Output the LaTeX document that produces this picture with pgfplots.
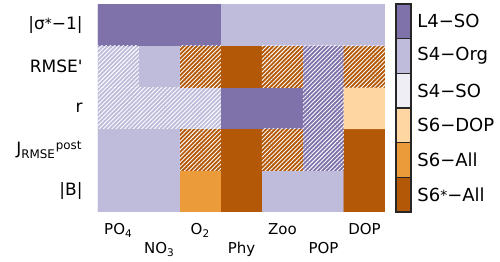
\documentclass[border=0pt]{standalone}
\usepackage{fontspec}
\setmainfont{DejaVu Sans}
\usepackage{pgfplots}
\pgfplotsset{compat=1.18}
\usetikzlibrary{patterns.meta}
\definecolor{cA}{RGB}{127,113,170}
\definecolor{cB}{RGB}{191,188,219}
\definecolor{cC}{RGB}{239,238,244}
\definecolor{cD}{RGB}{253,214,161}
\definecolor{cE}{RGB}{236,155,58}
\definecolor{cF}{RGB}{179,88,6}
\pgfplotsset{
  hatch/.style={draw=none, pattern={Lines[angle=45,distance=1.5pt,line width=0.45pt]}, pattern color=white},
}
\begin{document}
\begin{tikzpicture}
\path[use as bounding box] (0,0) rectangle (250pt,131pt);
\begin{axis}[at={(49pt,25pt)}, anchor=south west, scale only axis,
  width=143.5pt, height=104pt,
  xmin=0.5, xmax=7.5, ymin=0.5, ymax=5.5,
  colormap={cats}{rgb255=(127,113,170) rgb255=(191,188,219) rgb255=(239,238,244) rgb255=(253,214,161) rgb255=(236,155,58) rgb255=(179,88,6)},
  colormap access=direct,
  axis line style={draw=none}, major tick length=0pt,
  xtick={1,3,5,7}, xticklabels={PO\textsubscript{4},O\textsubscript{2},Zoo,DOP},
  extra x ticks={2,4,6}, extra x tick labels={NO\textsubscript{3},Phy,POP},
  x tick label style={anchor=base, inner sep=0pt, yshift=-11.5pt, font=\fontsize{7.5}{9}\selectfont},
  extra x tick style={x tick label style={yshift=-9.5pt}},
  ytick={1,2,3,4,5},
  yticklabels={{|B|},{J\textsubscript{RMSE}\textsuperscript{post}},{r},{RMSE\textquotesingle},{|σ\raisebox{0.5pt}{\scriptsize *}−1|}},
  y tick label style={anchor=east, inner sep=0pt, xshift=-7.5pt, font=\fontsize{8.5}{10}\selectfont},
]
\addplot[matrix plot*, point meta=explicit, mesh/cols=7] table[meta=c]{
x y c
1 1 1
2 1 1
3 1 4
4 1 5
5 1 1
6 1 1
7 1 5
1 2 1
2 2 1
3 2 5
4 2 5
5 2 5
6 2 0
7 2 5
1 3 1
2 3 1
3 3 1
4 3 0
5 3 0
6 3 0
7 3 3
1 4 1
2 4 1
3 4 5
4 4 5
5 4 5
6 4 0
7 4 5
1 5 0
2 5 0
3 5 0
4 5 1
5 5 1
6 5 1
7 5 1
};
\addplot[hatch] coordinates {(0.5,3.5) (1.5,3.5) (1.5,4.5) (0.5,4.5)} -- cycle;
\addplot[hatch] coordinates {(0.5,2.5) (3.5,2.5) (3.5,3.5) (0.5,3.5)} -- cycle;
\addplot[hatch] coordinates {(2.5,3.5) (3.5,3.5) (3.5,4.5) (2.5,4.5)} -- cycle;
\addplot[hatch] coordinates {(2.5,1.5) (3.5,1.5) (3.5,2.5) (2.5,2.5)} -- cycle;
\addplot[hatch] coordinates {(4.5,3.5) (5.5,3.5) (5.5,4.5) (4.5,4.5)} -- cycle;
\addplot[hatch] coordinates {(4.5,1.5) (5.5,1.5) (5.5,2.5) (4.5,2.5)} -- cycle;
\addplot[hatch] coordinates {(5.5,1.5) (6.5,1.5) (6.5,4.5) (5.5,4.5)} -- cycle;
\addplot[hatch] coordinates {(6.5,3.5) (7.5,3.5) (7.5,4.5) (6.5,4.5)} -- cycle;
\end{axis}
\begin{axis}[at={(198pt,25pt)}, anchor=south west, scale only axis,
  width=7.5pt, height=104pt,
  xmin=0, xmax=1, ymin=0, ymax=6,
  axis line style={draw=none}, major tick length=0pt,
  xtick=\empty,
  ytick={0.5,1.5,2.5,3.5,4.5,5.5},
  yticklabels={{S6\raisebox{0.5pt}{\scriptsize *}−All},{S6−All},{S6−DOP},{S4−SO},{S4−Org},{L4−SO}},
  yticklabel pos=right,
  y tick label style={anchor=west, inner sep=0pt, xshift=3pt, font=\fontsize{9}{11}\selectfont},
  clip=false,
]
\addplot[fill=cF, draw=black!85, line width=0.6pt] coordinates {(0,0) (1,0) (1,1) (0,1)} -- cycle;
\addplot[fill=cE, draw=black!85, line width=0.6pt] coordinates {(0,1) (1,1) (1,2) (0,2)} -- cycle;
\addplot[fill=cD, draw=black!85, line width=0.6pt] coordinates {(0,2) (1,2) (1,3) (0,3)} -- cycle;
\addplot[fill=cC, draw=black!85, line width=0.6pt] coordinates {(0,3) (1,3) (1,4) (0,4)} -- cycle;
\addplot[fill=cB, draw=black!85, line width=0.6pt] coordinates {(0,4) (1,4) (1,5) (0,5)} -- cycle;
\addplot[fill=cA, draw=black!85, line width=0.6pt] coordinates {(0,5) (1,5) (1,6) (0,6)} -- cycle;
\end{axis}
\end{tikzpicture}
\end{document}
